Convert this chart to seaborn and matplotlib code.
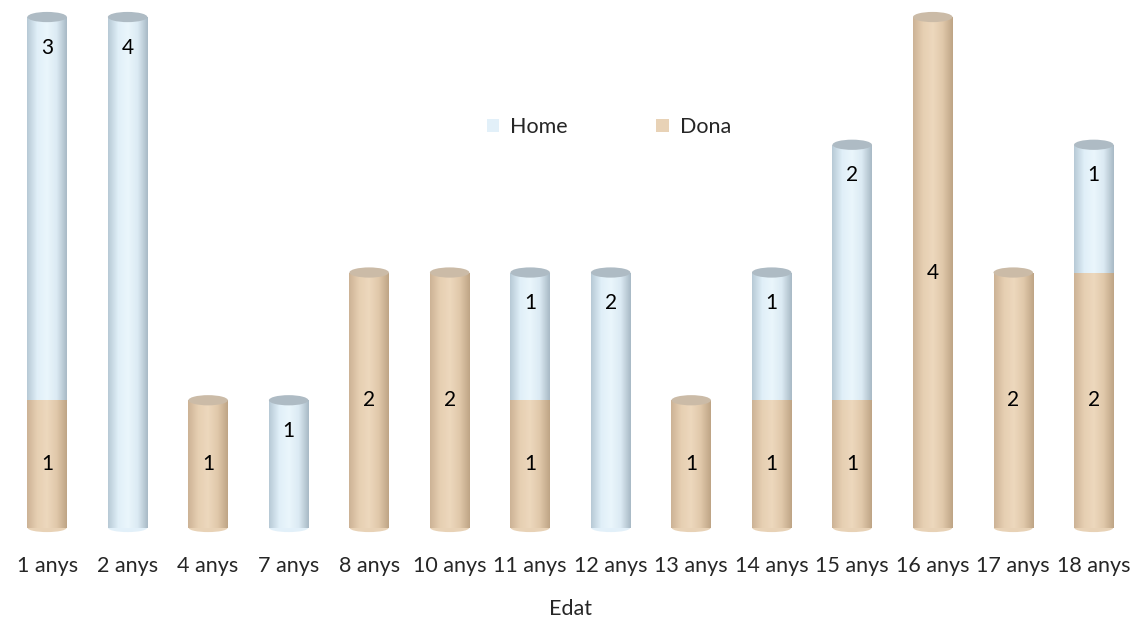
import numpy as np
import pandas as pd
import matplotlib
matplotlib.use('Agg')
import matplotlib.pyplot as plt
from matplotlib.colors import LinearSegmentedColormap
from matplotlib.patches import Ellipse, Patch
import seaborn as sns

edats = ['1 anys', '2 anys', '4 anys', '7 anys', '8 anys', '10 anys', '11 anys',
         '12 anys', '13 anys', '14 anys', '15 anys', '16 anys', '17 anys', '18 anys']
dona = [1, 0, 1, 0, 2, 2, 1, 0, 1, 1, 1, 4, 2, 2]
home = [3, 4, 0, 1, 0, 0, 1, 2, 0, 1, 2, 0, 0, 1]

home_color = '#e2f0f9'
dona_color = '#e8d2b6'

df = pd.DataFrame({'Edat': edats, 'Dona': dona, 'Home': home})
df['Total'] = df['Dona'] + df['Home']

sns.set_theme(style='white')
plt.rcParams['font.family'] = ['Lato', 'DejaVu Sans']

fig = plt.figure(figsize=(11.38, 6.2), dpi=100)
ax = fig.add_axes([0.006, 1 - 528 / 620, 0.9905, 518 / 620])

bar_w = 0.49
# stacked: total in Home colour, Dona drawn over it
sns.barplot(data=df, x='Edat', y='Total', color=home_color, width=bar_w,
            saturation=1, ax=ax)
n_home = len(ax.patches)
sns.barplot(data=df, x='Edat', y='Dona', color=dona_color, width=bar_w,
            saturation=1, ax=ax)

# cylinder shading
shade_home = LinearSegmentedColormap.from_list(
    'h', ['#b8cad6', '#e0eff8', '#eaf6fc', '#dbeaf3', '#a9bac6'])
shade_dona = LinearSegmentedColormap.from_list(
    'd', ['#cdb396', '#e6cfb2', '#edd8bd', '#e0c8aa', '#bfa586'])
grad = np.linspace(0, 1, 64).reshape(1, -1)
for i, p in enumerate(ax.patches):
    h = p.get_height()
    if h <= 0:
        continue
    x0 = p.get_x()
    w = p.get_width()
    cmap = shade_home if i < n_home else shade_dona
    im = ax.imshow(grad, cmap=cmap, aspect='auto',
                   extent=[x0, x0 + w, p.get_y(), p.get_y() + h], zorder=p.get_zorder() + 0.1)
    im.set_clip_path(p)

# top caps and rounded bottoms
cap_h = 0.08
for i, row in df.iterrows():
    if row['Total'] <= 0:
        continue
    top_col = '#aebbc4' if row['Home'] > 0 else '#cbbba7'
    ax.add_patch(Ellipse((i, row['Total']), bar_w, cap_h, facecolor=top_col,
                         edgecolor='none', zorder=5))
    bot_col = dona_color if row['Dona'] > 0 else home_color
    ax.add_patch(Ellipse((i, 0), bar_w * 0.98, cap_h * 0.8, facecolor=bot_col,
                         edgecolor='none', zorder=1, clip_on=False))

# value labels
for i, row in df.iterrows():
    if row['Dona'] > 0:
        ax.text(i, row['Dona'] / 2, str(row['Dona']), ha='center', va='center',
                fontsize=15, color='black', zorder=6)
    if row['Home'] > 0:
        ax.text(i, row['Total'] - 0.24, str(row['Home']), ha='center', va='center',
                fontsize=15, color='black', zorder=6)

ax.set_xlim(-0.5, len(edats) - 0.5)
ax.set_ylim(0, 4.055)
ax.set_yticks([])
ax.set_ylabel('')
ax.set_xlabel('Edat', fontsize=15.5, labelpad=17)
ax.tick_params(axis='x', labelsize=15.5, length=0, pad=20)
sns.despine(ax=ax, left=True, bottom=True)

handles = [Patch(facecolor=home_color, edgecolor='none', label='Home'),
           Patch(facecolor=dona_color, edgecolor='none', label='Dona')]
fig.legend(handles=handles, loc='center', bbox_to_anchor=(0.535, 1 - 127 / 620),
           ncol=2, frameon=False, fontsize=15.5, handlelength=0.6, handleheight=0.6,
           handletextpad=0.5, columnspacing=4.1)

fig.savefig('out.png', dpi=100)
